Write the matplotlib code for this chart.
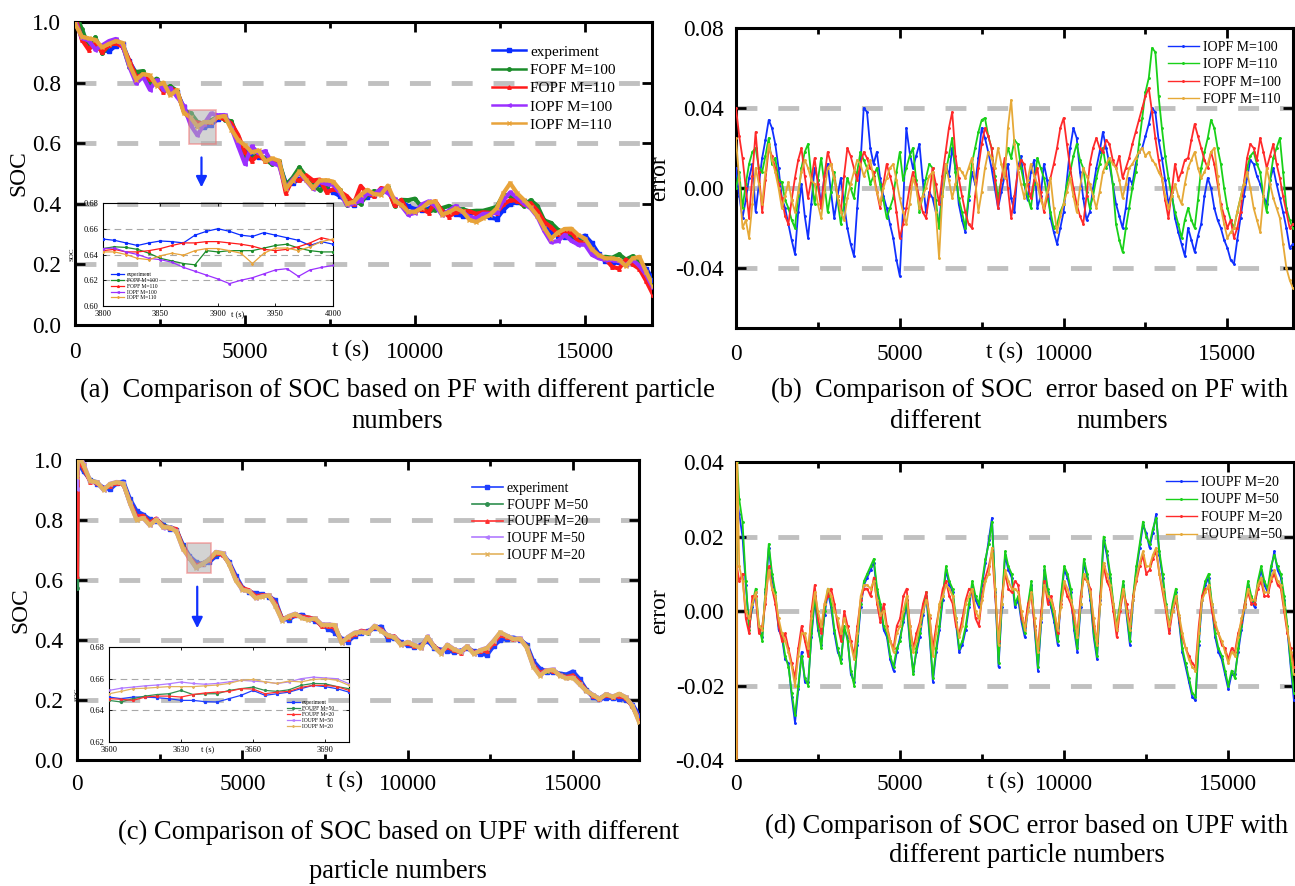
"""SOC and SOC error of PF / UPF filters with different particle numbers."""

import numpy as np
import matplotlib.pyplot as plt
from matplotlib.patches import Rectangle
from matplotlib.ticker import MultipleLocator, FormatStrFormatter

plt.rcParams["font.family"] = ["Liberation Serif", "DejaVu Serif"]
plt.rcParams["axes.unicode_minus"] = False


# ---------------------------------------------------------------------------
# data
# ---------------------------------------------------------------------------
T_SOC = np.arange(0, 17001, 200)       # SOC curves, s
T_ERR = np.arange(0, 17001, 100)       # PF error curves, s
T_UPF = np.insert(T_ERR, 1, 30)        # UPF error curves: extra sample at 30 s
T_SOC_UPF = np.insert(T_SOC, 1, 30)

SOC_EXP = [
    0.995, 0.962, 0.934, 0.921, 0.908, 0.903, 0.922, 0.928, 0.870, 0.830,
    0.818, 0.802, 0.798, 0.785, 0.770, 0.768, 0.718, 0.680, 0.660, 0.652,
    0.660, 0.680, 0.688, 0.660, 0.615, 0.575, 0.560, 0.556, 0.552, 0.545,
    0.532, 0.470, 0.468, 0.482, 0.484, 0.472, 0.465, 0.450, 0.438, 0.425,
    0.405, 0.395, 0.415, 0.424, 0.430, 0.440, 0.445, 0.405, 0.408, 0.392,
    0.382, 0.378, 0.383, 0.398, 0.374, 0.368, 0.365, 0.360, 0.365, 0.372,
    0.362, 0.355, 0.350, 0.380, 0.400, 0.405, 0.408, 0.400, 0.385, 0.330,
    0.305, 0.295, 0.292, 0.288, 0.285, 0.295, 0.270, 0.235, 0.210, 0.202,
    0.208, 0.206, 0.205, 0.200, 0.185, 0.150,
]
SOC_EXP_30S = 0.990

# PF errors (panel b), one row per 1000 s
ERR_IOPF_100 = [
    0.010, -0.004, -0.015, -0.006, 0.005, 0.012, -0.012, 0.002, 0.015, 0.024,
    0.034, 0.030, 0.022, 0.010, -0.005, -0.010, -0.018, -0.026, -0.033, -0.012,
    0.002, -0.014, -0.025, -0.008, 0.010, 0.004, -0.008, 0.006, 0.012, -0.002,
    -0.015, -0.004, 0.005, -0.008, -0.020, -0.028, -0.034, -0.010, 0.012, 0.040,
    0.038, 0.020, 0.012, 0.018, 0.005, -0.004, -0.010, -0.018, -0.025, -0.036,
    -0.044, -0.010, 0.030, 0.018, 0.010, 0.016, 0.022, 0.004, -0.012, -0.002,
    -0.005, -0.012, -0.018, 0.000, 0.012, 0.006, 0.020, 0.010, -0.008, -0.016,
    -0.022, -0.006, 0.008, 0.002, 0.015, 0.030, 0.025, 0.018, 0.010, 0.000,
    -0.010, -0.002, 0.006, 0.012, -0.005, -0.012, 0.010, 0.016, 0.002, -0.006,
    0.008, 0.014, -0.010, -0.004, 0.012, 0.004, -0.015, -0.022, -0.028, -0.020,
    -0.012, 0.004, 0.020, 0.030, 0.025, 0.008, -0.005, -0.016, -0.012, 0.000,
    0.010, 0.018, 0.028, 0.020, 0.012, 0.002, -0.008, -0.014, -0.020, -0.010,
    0.005, 0.002, 0.012, 0.018, 0.020, 0.026, 0.032, 0.040, 0.038, 0.024,
    0.015, 0.004, -0.008, -0.002, -0.015, -0.022, -0.028, -0.034, -0.020, -0.026,
    -0.032, -0.024, -0.018, -0.004, 0.005, 0.000, -0.010, -0.016, -0.020, -0.026,
    -0.030, -0.036, -0.038, -0.026, -0.015, -0.004, 0.005, 0.014, 0.012, 0.006,
    0.002, -0.004, -0.008, 0.004, 0.010, 0.002, -0.005, -0.012, -0.020, -0.030,
    -0.028,
]
ERR_IOPF_110 = [
    0.000, 0.008, -0.010, 0.002, 0.012, 0.018, 0.020, 0.010, 0.008, 0.016,
    0.025, 0.012, 0.015, 0.004, 0.003, -0.006, -0.010, -0.016, -0.020, -0.004,
    0.010, 0.018, 0.022, 0.006, -0.008, 0.004, 0.015, 0.002, -0.012, -0.002,
    0.008, -0.006, -0.018, -0.008, 0.005, 0.000, -0.005, 0.008, 0.018, 0.014,
    0.010, 0.002, 0.006, 0.010, 0.002, -0.006, -0.015, -0.010, -0.005, 0.008,
    0.018, 0.004, 0.010, 0.016, 0.020, 0.004, -0.012, -0.004, 0.005, 0.012,
    0.010, -0.006, -0.020, -0.004, 0.008, 0.016, 0.025, 0.008, -0.005, -0.012,
    -0.020, -0.004, 0.012, 0.020, 0.028, 0.034, 0.035, 0.026, 0.020, 0.006,
    -0.005, 0.004, 0.012, 0.020, 0.015, 0.024, 0.022, 0.010, 0.002, -0.004,
    -0.010, 0.002, 0.015, 0.010, 0.005, -0.004, -0.012, -0.020, -0.018, -0.012,
    -0.008, 0.002, 0.008, 0.016, 0.022, 0.014, 0.010, -0.002, -0.010, -0.004,
    0.005, 0.012, 0.020, 0.010, 0.015, 0.002, -0.018, -0.026, -0.032, -0.020,
    -0.010, 0.000, 0.008, 0.022, 0.035, 0.048, 0.055, 0.070, 0.068, 0.046,
    0.030, 0.016, 0.005, -0.004, -0.012, -0.018, -0.025, -0.016, -0.010, -0.016,
    -0.020, -0.006, 0.010, 0.018, 0.025, 0.034, 0.030, 0.020, 0.012, 0.000,
    -0.010, -0.016, -0.020, -0.012, -0.005, 0.002, 0.010, 0.016, 0.018, 0.012,
    0.008, -0.004, -0.012, 0.004, 0.015, 0.020, 0.025, 0.008, -0.010, -0.016,
    -0.020,
]
ERR_FOPF_100 = [
    0.040, 0.026, 0.015, 0.000, -0.015, 0.006, 0.028, 0.008, -0.012, 0.004,
    0.020, 0.016, 0.010, 0.002, -0.005, -0.014, -0.018, -0.006, 0.005, 0.014,
    0.020, 0.006, -0.005, 0.004, 0.015, 0.002, -0.010, 0.006, 0.018, 0.012,
    0.005, -0.004, -0.012, 0.006, 0.020, 0.016, 0.010, 0.004, 0.012, 0.018,
    0.015, 0.010, 0.008, -0.002, -0.010, 0.002, 0.012, 0.006, 0.000, -0.012,
    -0.025, -0.018, -0.010, 0.000, 0.008, 0.002, -0.005, -0.012, -0.015, -0.004,
    0.010, 0.002, -0.008, 0.006, 0.018, 0.030, 0.038, 0.016, 0.005, -0.004,
    -0.012, -0.018, -0.020, -0.004, 0.010, 0.022, 0.030, 0.026, 0.020, 0.004,
    -0.010, 0.004, 0.015, 0.000, -0.015, -0.004, 0.008, 0.014, 0.012, 0.002,
    -0.005, 0.004, 0.010, -0.002, -0.012, -0.004, 0.005, 0.012, 0.020, 0.030,
    0.035, 0.022, 0.010, 0.000, -0.008, -0.014, -0.018, -0.004, 0.012, 0.020,
    0.025, 0.020, 0.018, 0.024, 0.022, 0.014, 0.010, 0.016, 0.005, 0.010,
    0.015, 0.022, 0.028, 0.034, 0.040, 0.046, 0.050, 0.038, 0.025, 0.014,
    0.005, -0.006, -0.015, -0.002, 0.012, 0.004, 0.008, 0.014, 0.015, 0.024,
    0.032, 0.026, 0.020, 0.014, 0.010, 0.018, 0.012, 0.002, -0.008, -0.014,
    -0.020, -0.016, -0.025, -0.020, -0.012, 0.002, 0.015, 0.022, 0.020, 0.014,
    0.025, 0.018, 0.010, 0.016, 0.022, 0.012, 0.005, -0.004, -0.012, -0.020,
    -0.018,
]
ERR_FOPF_110 = [
    0.025, 0.004, -0.020, -0.016, -0.025, -0.008, 0.010, 0.002, -0.008, 0.008,
    0.022, 0.014, 0.008, 0.000, -0.010, -0.004, 0.003, -0.006, -0.012, -0.002,
    0.008, 0.014, 0.010, 0.004, 0.002, -0.008, -0.015, -0.002, 0.010, 0.012,
    0.005, -0.004, -0.012, -0.016, -0.005, 0.002, 0.008, 0.014, 0.012, 0.006,
    0.010, 0.014, 0.005, -0.002, -0.008, 0.000, 0.005, 0.010, 0.012, 0.004,
    -0.005, -0.012, -0.018, -0.008, 0.005, 0.000, -0.010, -0.004, 0.000, 0.006,
    0.008, -0.012, -0.035, -0.004, 0.012, 0.004, -0.005, 0.002, 0.010, 0.008,
    0.005, 0.010, 0.015, 0.004, -0.012, -0.002, 0.010, 0.018, 0.015, 0.010,
    0.020, 0.012, 0.005, 0.030, 0.044, 0.022, 0.010, 0.002, -0.005, 0.004,
    0.012, 0.006, 0.002, -0.006, -0.010, -0.002, 0.005, -0.010, -0.022, -0.014,
    -0.008, -0.002, 0.005, -0.004, -0.012, 0.000, 0.010, 0.006, 0.002, -0.004,
    -0.010, -0.002, 0.008, 0.012, 0.015, 0.012, 0.010, 0.004, -0.005, 0.002,
    0.010, 0.012, 0.015, 0.018, 0.020, 0.016, 0.018, 0.014, 0.012, 0.008,
    0.005, -0.004, -0.010, -0.004, 0.002, -0.004, -0.008, 0.002, 0.010, 0.014,
    0.018, 0.010, 0.005, 0.008, 0.012, 0.018, 0.020, 0.006, -0.010, -0.018,
    -0.025, -0.022, -0.020, -0.012, -0.005, 0.002, 0.008, 0.000, -0.010, -0.016,
    -0.022, -0.004, 0.010, 0.002, -0.005, -0.010, -0.015, -0.028, -0.040, -0.046,
    -0.050,
]

# UPF errors (panel d): samples at 0 s, 30 s, then every 100 s
ERR_IOUPF_20 = [
    -0.050, 0.030, 0.026, 0.020, 0.007, -0.004, 0.001, 0.005, -0.005, -0.007, 0.005,
    0.017, 0.009, 0.004, -0.005, -0.007, -0.013, -0.014, -0.023, -0.030, -0.021,
    -0.011, -0.019, -0.019, -0.007, 0.003, -0.005, -0.009, -0.001, 0.005, 0.001,
    -0.006, -0.011, -0.013, -0.005, -0.007, -0.017, -0.019, -0.009, 0.001, 0.007,
    0.009, 0.011, 0.013, 0.005, 0.001, -0.005, -0.007, -0.013, -0.016, -0.011,
    -0.007, -0.003, 0.002, -0.009, -0.016, -0.011, -0.007, -0.001, 0.004, -0.007,
    -0.019, -0.011, -0.005, 0.003, 0.011, 0.007, 0.005, -0.003, -0.011, -0.009,
    -0.005, 0.001, 0.007, 0.003, 0.001, 0.007, 0.013, 0.019, 0.025, 0.005,
    -0.015, 0.001, 0.015, 0.011, 0.009, 0.001, 0.003, -0.003, -0.007, 0.001,
    0.007, -0.005, -0.016, -0.003, 0.011, 0.005, 0.001, -0.003, -0.009, 0.003,
    0.011, 0.009, 0.005, -0.005, -0.011, 0.001, 0.013, 0.009, 0.003, -0.007,
    -0.013, 0.003, 0.019, 0.015, 0.009, 0.001, -0.005, 0.001, 0.007, -0.001,
    -0.009, 0.003, 0.011, 0.017, 0.023, 0.021, 0.017, 0.021, 0.026, 0.015,
    0.009, 0.001, -0.005, 0.001, 0.005, -0.003, -0.011, -0.015, -0.019, -0.023,
    -0.024, -0.009, 0.003, 0.007, 0.009, 0.001, -0.007, -0.011, -0.013, -0.017,
    -0.021, -0.017, -0.017, -0.011, -0.005, 0.001, 0.007, 0.003, 0.001, 0.007,
    0.011, 0.007, 0.005, 0.011, 0.016, 0.011, 0.009, 0.003, -0.005, -0.015,
    -0.024,
]
ERR_IOUPF_50 = [
    -0.090, 0.040, 0.030, 0.024, 0.008, -0.005, 0.002, 0.006, -0.004, -0.008, 0.006,
    0.018, 0.010, 0.005, -0.004, -0.006, -0.012, -0.015, -0.022, -0.028, -0.020,
    -0.012, -0.018, -0.020, -0.006, 0.004, -0.004, -0.010, 0.000, 0.006, 0.002,
    -0.005, -0.010, -0.014, -0.004, -0.008, -0.016, -0.020, -0.008, 0.002, 0.008,
    0.010, 0.012, 0.014, 0.006, 0.002, -0.004, -0.006, -0.012, -0.015, -0.010,
    -0.008, -0.002, 0.003, -0.008, -0.017, -0.010, -0.006, 0.000, 0.005, -0.006,
    -0.018, -0.010, -0.004, 0.004, 0.012, 0.008, 0.006, -0.002, -0.010, -0.008,
    -0.004, 0.002, 0.008, 0.004, 0.002, 0.008, 0.014, 0.018, 0.024, 0.006,
    -0.014, 0.002, 0.016, 0.012, 0.010, 0.002, 0.004, -0.002, -0.006, 0.002,
    0.008, -0.004, -0.015, -0.002, 0.012, 0.006, 0.002, -0.002, -0.008, 0.004,
    0.012, 0.010, 0.006, -0.004, -0.010, 0.002, 0.014, 0.010, 0.004, -0.006,
    -0.012, 0.004, 0.020, 0.016, 0.010, 0.002, -0.004, 0.002, 0.008, 0.000,
    -0.008, 0.004, 0.012, 0.018, 0.024, 0.020, 0.018, 0.022, 0.025, 0.016,
    0.010, 0.002, -0.004, 0.002, 0.006, -0.002, -0.010, -0.014, -0.018, -0.022,
    -0.023, -0.008, 0.004, 0.008, 0.010, 0.002, -0.006, -0.010, -0.012, -0.016,
    -0.020, -0.016, -0.018, -0.010, -0.004, 0.002, 0.008, 0.004, 0.002, 0.008,
    0.012, 0.008, 0.006, 0.012, 0.015, 0.012, 0.010, 0.004, -0.004, -0.014,
    -0.022,
]
ERR_FOUPF_20 = [
    -0.380, 0.012, 0.008, 0.010, -0.002, -0.006, 0.004, 0.004, -0.006, -0.004, 0.002,
    0.012, 0.006, 0.002, -0.004, -0.008, -0.006, -0.010, -0.014, -0.018, -0.010,
    -0.004, -0.008, -0.012, 0.000, 0.007, -0.002, -0.006, 0.002, 0.004, 0.006,
    0.002, -0.004, -0.008, 0.000, -0.004, -0.008, -0.012, -0.004, 0.003, 0.006,
    0.006, 0.004, 0.009, 0.002, -0.003, 0.002, -0.004, -0.008, -0.010, -0.004,
    -0.002, 0.004, 0.006, -0.004, -0.010, -0.006, -0.003, 0.002, 0.005, -0.002,
    -0.010, -0.004, 0.001, 0.006, 0.008, 0.004, 0.002, -0.004, -0.006, -0.002,
    0.003, 0.006, 0.005, -0.002, -0.004, 0.004, 0.009, 0.012, 0.016, 0.004,
    -0.008, 0.004, 0.010, 0.006, 0.005, 0.008, 0.007, -0.002, -0.004, 0.002,
    0.004, -0.004, -0.010, 0.000, 0.008, 0.002, 0.004, 0.000, -0.006, 0.002,
    0.007, 0.004, 0.002, -0.002, -0.006, 0.004, 0.009, 0.008, 0.006, -0.004,
    -0.008, 0.004, 0.012, 0.008, 0.006, 0.000, -0.007, 0.000, 0.005, 0.002,
    -0.004, 0.004, 0.008, 0.012, 0.015, 0.010, 0.011, 0.014, 0.016, 0.010,
    0.005, 0.000, -0.006, 0.000, 0.003, -0.002, -0.007, -0.010, -0.012, -0.014,
    -0.015, -0.004, 0.004, 0.006, 0.006, 0.000, -0.004, -0.006, -0.009, -0.010,
    -0.013, -0.010, -0.011, -0.006, -0.003, 0.002, 0.005, 0.002, 0.002, 0.006,
    0.008, 0.004, 0.004, 0.008, 0.010, 0.007, 0.006, 0.000, -0.006, -0.010,
    -0.015,
]
ERR_FOUPF_50 = [
    -0.420, 0.045, 0.012, 0.008, 0.000, -0.002, 0.002, 0.005, -0.004, -0.005, 0.004,
    0.011, 0.006, 0.004, -0.002, -0.006, -0.008, -0.011, -0.015, -0.020, -0.012,
    -0.006, -0.006, -0.010, -0.002, 0.005, 0.000, -0.004, 0.002, 0.006, 0.004,
    0.000, -0.002, -0.006, -0.002, -0.005, -0.009, -0.013, -0.006, 0.004, 0.007,
    0.007, 0.006, 0.008, 0.003, -0.001, 0.000, -0.005, -0.008, -0.011, -0.006,
    -0.004, 0.000, 0.004, -0.004, -0.011, -0.008, -0.004, 0.000, 0.003, -0.001,
    -0.012, -0.006, 0.002, 0.004, 0.007, 0.006, 0.004, -0.002, -0.007, -0.004,
    0.002, 0.004, 0.006, 0.000, -0.002, 0.003, 0.008, 0.010, 0.017, 0.006,
    -0.009, 0.002, 0.011, 0.008, 0.006, 0.006, 0.005, 0.000, -0.005, 0.000,
    0.005, -0.002, -0.011, -0.002, 0.007, 0.004, 0.003, 0.000, -0.005, 0.001,
    0.008, 0.006, 0.003, 0.000, -0.007, 0.002, 0.010, 0.008, 0.005, -0.002,
    -0.009, 0.002, 0.013, 0.010, 0.007, 0.002, -0.005, 0.001, 0.006, 0.000,
    -0.005, 0.003, 0.009, 0.013, 0.016, 0.012, 0.012, 0.015, 0.017, 0.010,
    0.006, 0.001, -0.004, 0.000, 0.004, -0.001, -0.006, -0.010, -0.013, -0.015,
    -0.016, -0.006, 0.003, 0.005, 0.007, 0.002, -0.003, -0.006, -0.008, -0.011,
    -0.014, -0.011, -0.012, -0.007, -0.002, 0.001, 0.006, 0.003, 0.003, 0.007,
    0.009, 0.005, 0.005, 0.009, 0.011, 0.008, 0.007, 0.001, -0.005, -0.011,
    -0.017,
]

# zoomed window of panel a (3800-4000 s)
T_ZOOM_A = np.arange(3800, 4001, 10)
ZOOM_A_EXP = [0.652, 0.651, 0.649, 0.647, 0.649, 0.6505, 0.650, 0.649, 0.655, 0.658,
              0.660, 0.658, 0.655, 0.654, 0.657, 0.655, 0.653, 0.651, 0.647, 0.650, 0.648]
ZOOM_A_FOPF_100 = [0.6446, 0.646, 0.6455, 0.644, 0.641, 0.637, 0.635, 0.633, 0.632, 0.643,
                   0.642, 0.643, 0.643, 0.643, 0.645, 0.647, 0.648, 0.645, 0.643, 0.642, 0.642]
ZOOM_A_FOPF_110 = [0.643, 0.644, 0.642, 0.642, 0.643, 0.6446, 0.647, 0.649, 0.649, 0.650,
                   0.650, 0.649, 0.648, 0.6465, 0.644, 0.643, 0.644, 0.646, 0.649, 0.653, 0.651]
ZOOM_A_IOPF_100 = [0.6446, 0.645, 0.642, 0.640, 0.637, 0.636, 0.634, 0.630, 0.627, 0.624,
                   0.621, 0.6174, 0.620, 0.622, 0.625, 0.628, 0.629, 0.623, 0.628, 0.630, 0.6315]
ZOOM_A_IOPF_110 = [0.642, 0.642, 0.640, 0.637, 0.636, 0.639, 0.641, 0.6395, 0.643, 0.6446,
                   0.6446, 0.643, 0.641, 0.633, 0.641, 0.645, 0.645, 0.643, 0.646, 0.650, 0.652]

# zoomed window of panel c (3600-3700 s)
T_ZOOM_C = np.arange(3600, 3701, 5)
ZOOM_C_EXP = [0.6484, 0.6474, 0.6484, 0.6484, 0.648, 0.6474, 0.6463, 0.6463, 0.6455, 0.6453,
              0.6474, 0.6495, 0.6526, 0.6495, 0.6505, 0.6515, 0.6537, 0.6558, 0.655, 0.6537, 0.6515]
ZOOM_C_FOUPF_50 = [0.6463, 0.6453, 0.6474, 0.649, 0.650, 0.6505, 0.6526, 0.650, 0.6505, 0.6505,
                   0.6526, 0.6537, 0.6547, 0.6526, 0.652, 0.653, 0.6558, 0.657, 0.6568, 0.655, 0.6537]
ZOOM_C_FOUPF_20 = [0.6474, 0.647, 0.6463, 0.6484, 0.649, 0.649, 0.6484, 0.650, 0.651, 0.6515,
                   0.652, 0.6537, 0.6535, 0.6505, 0.6515, 0.652, 0.6545, 0.6558, 0.6558, 0.655, 0.6526]
ZOOM_C_IOUPF_50 = [0.6526, 0.654, 0.6547, 0.6555, 0.656, 0.6568, 0.6579, 0.657, 0.6565, 0.657,
                   0.658, 0.659, 0.6585, 0.658, 0.657, 0.658, 0.660, 0.661, 0.6605, 0.660, 0.6568]
ZOOM_C_IOUPF_20 = [0.6505, 0.652, 0.6537, 0.654, 0.6545, 0.655, 0.655, 0.655, 0.6555, 0.656,
                   0.657, 0.659, 0.6595, 0.658, 0.657, 0.6585, 0.658, 0.6595, 0.660, 0.659, 0.6558]

LABELS_A = ["experiment", "FOPF M=100", "FOPF M=110", "IOPF M=100", "IOPF M=110"]
LABELS_B = ["IOPF M=100", "IOPF M=110", "FOPF M=100", "FOPF M=110"]
LABELS_C = ["experiment", "FOUPF M=50", "FOUPF M=20", "IOUPF M=50", "IOUPF M=20"]
LABELS_D = ["IOUPF M=20", "IOUPF M=50", "FOUPF M=20", "FOUPF M=50"]

CAPTIONS = {
    "a": ["(a)  Comparison of SOC based on PF with different particle", "numbers"],
    "b": ["(b)  Comparison of SOC  error based on PF with", "different", "numbers"],
    "c": ["(c) Comparison of SOC based on UPF with different", "particle numbers"],
    "d": ["(d) Comparison of SOC error based on UPF with", "different particle numbers"],
}

assert len(SOC_EXP) == len(T_SOC)
for _arr in (ERR_IOPF_100, ERR_IOPF_110, ERR_FOPF_100, ERR_FOPF_110):
    assert len(_arr) == len(T_ERR)
for _arr in (ERR_IOUPF_20, ERR_IOUPF_50, ERR_FOUPF_20, ERR_FOUPF_50):
    assert len(_arr) == len(T_UPF)


# ---------------------------------------------------------------------------
# colours / styles
# ---------------------------------------------------------------------------
COLORS_A = ["#0a2cff", "#1b8c2a", "#ff1a1a", "#9b30ff", "#e8a33a"]
MARKERS_A = ["s", "o", "^", "<", "x"]
COLORS_B = ["#1030ff", "#19d119", "#ff2a2a", "#e6a937"]
COLORS_C = ["#1f3fff", "#2f8f4f", "#ff3030", "#b27bff", "#e3b35e"]
MARKERS_C = ["s", "o", "^", "<", "x"]
COLORS_D = ["#1030ff", "#19d119", "#ff2a2a", "#e6a937"]
GRID_COLOR = "#c0c0c0"
TICK_SIZE = 16.8
CAPTION_SIZE = 19.2


# ---------------------------------------------------------------------------
# helpers
# ---------------------------------------------------------------------------

def style_main(ax, xlim, ylim, yticks, yfmt, grid_ys, xpad, ypad):
    """Frame, ticks and dashed guide lines shared by the four panels."""
    ax.set_xlim(*xlim)
    ax.set_ylim(*ylim)
    ax.xaxis.set_major_locator(MultipleLocator(5000))
    ax.xaxis.set_minor_locator(MultipleLocator(2500))
    ax.set_yticks(yticks)
    ax.yaxis.set_major_formatter(FormatStrFormatter(yfmt))
    ax.tick_params(which="both", direction="in", top=True, right=True,
                   width=2, color="black")
    ax.tick_params(which="major", length=7, labelsize=TICK_SIZE)
    ax.tick_params(which="minor", length=4)
    ax.tick_params(axis="x", pad=xpad)
    ax.tick_params(axis="y", pad=ypad)
    for sp in ax.spines.values():
        sp.set_linewidth(2.2)
    for y in grid_ys:
        ax.axhline(y, color=GRID_COLOR, lw=3.5, ls=(0, (4.3, 4.3)), zorder=1)


def time_label(ax, t, y, size=TICK_SIZE):
    """'t (s)' placed on the tick-label row, as in the original."""
    ax.text(t, y, "t (s)", transform=ax.get_xaxis_transform(),
            ha="center", va="center", fontsize=size)


def main_legend(ax, anchor, size, spacing, handle_lw):
    leg = ax.legend(loc="upper left", bbox_to_anchor=anchor, frameon=False,
                    fontsize=size, handlelength=2.2, handletextpad=0.3,
                    labelspacing=spacing, borderpad=0, borderaxespad=0)
    for line in leg.get_lines():
        line.set_linewidth(handle_lw)
    return leg


def add_inset(fig, rect, t, curves, labels, colors, markers, xlim, ylim,
              xticks, grid_ys, t_label, leg_anchor):
    """Small transparent zoom panel sitting inside a SOC panel."""
    ax = fig.add_axes(rect)
    ax.patch.set_alpha(0)
    for y, lab, c, m in zip(curves, labels, colors, markers):
        ax.plot(t, y, color=c, lw=0.9, marker=m, ms=1.3, label=lab, zorder=3)
    for y in grid_ys:
        ax.axhline(y, color="#a8a8a8", lw=0.8, ls=(0, (6, 4)), zorder=1)
    ax.set_xlim(*xlim)
    ax.set_ylim(*ylim)
    ax.set_xticks(xticks)
    ax.yaxis.set_major_locator(MultipleLocator(0.02))
    ax.yaxis.set_major_formatter(FormatStrFormatter("%.2f"))
    ax.tick_params(direction="in", length=2.5, width=0.6, labelsize=6, pad=3,
                   top=True, right=True)
    for sp in ax.spines.values():
        sp.set_linewidth(0.8)
    ax.set_ylabel("SOC", fontsize=5)
    ax.yaxis.set_label_coords(-0.125, 0.5)
    time_label(ax, t_label, -0.09, size=6)
    ax.legend(loc="upper left", bbox_to_anchor=leg_anchor, frameon=False,
              fontsize=4, handlelength=2.4, handletextpad=0.4,
              labelspacing=0.15, borderpad=0, borderaxespad=0)
    return ax


# ---------------------------------------------------------------------------
# figure
# ---------------------------------------------------------------------------
fig = plt.figure(figsize=(12.95, 8.86), dpi=100)

ax_a = fig.add_axes([0.0579, 0.6332, 0.4456, 0.3420])
ax_b = fig.add_axes([0.5683, 0.6298, 0.4301, 0.3386])
ax_c = fig.add_axes([0.0595, 0.1422, 0.4340, 0.3386])
ax_d = fig.add_axes([0.5683, 0.1422, 0.4309, 0.3363])

exp = np.asarray(SOC_EXP)
on_soc = np.isin(T_ERR, T_SOC)           # error samples that fall on the SOC grid
on_soc_upf = np.isin(T_UPF, T_SOC_UPF)

# ---- (a) SOC, PF ----
curves_a = [exp] + [exp + np.asarray(e)[on_soc] for e in
                    (ERR_FOPF_100, ERR_FOPF_110, ERR_IOPF_100, ERR_IOPF_110)]
for y, lab, c, m in zip(curves_a, LABELS_A, COLORS_A, MARKERS_A):
    ax_a.plot(T_SOC, y, color=c, lw=3.0, marker=m, ms=2.5, label=lab, zorder=3)
style_main(ax_a, (0, 16970), (0, 1.0), np.arange(0, 1.01, 0.2), "%.1f",
           [0.2, 0.4, 0.6, 0.8], xpad=12, ypad=10)
ax_a.set_ylabel("SOC", fontsize=TICK_SIZE, labelpad=2)
time_label(ax_a, 8100, -0.083)
main_legend(ax_a, (0.723, 0.924), 11, 0.3, 1.8)
ax_a.add_patch(Rectangle((3350, 0.596), 790, 0.114, facecolor="#b0b0b0",
                         alpha=0.55, edgecolor="#f07070", lw=1.2, zorder=4))
ax_a.annotate("", xy=(3720, 0.445), xytext=(3720, 0.562),
              arrowprops=dict(arrowstyle="-|>", color="#1030ff", lw=1.6,
                              mutation_scale=16))
add_inset(fig, [0.0795, 0.6546, 0.1776, 0.1163], T_ZOOM_A,
          [ZOOM_A_EXP, ZOOM_A_FOPF_100, ZOOM_A_FOPF_110, ZOOM_A_IOPF_100, ZOOM_A_IOPF_110],
          LABELS_A, COLORS_A, MARKERS_A, (3800, 4000), (0.60, 0.68),
          [3800, 3850, 3900, 3950, 4000], [0.62, 0.64, 0.66], 3917, (0.035, 0.33))

# ---- (b) SOC error, PF ----
errs_b = [ERR_IOPF_100, ERR_IOPF_110, ERR_FOPF_100, ERR_FOPF_110]
for y, lab, c in zip(errs_b, LABELS_B, COLORS_B):
    ax_b.plot(T_ERR, y, color=c, lw=1.3, marker=".", ms=2.2, label=lab, zorder=3)
style_main(ax_b, (0, 17000), (-0.07, 0.08), [-0.04, 0.0, 0.04, 0.08], "%.2f",
           [-0.04, 0.0, 0.04], xpad=11.5, ypad=8.5)
ax_b.set_ylabel("error", fontsize=TICK_SIZE, labelpad=4)
time_label(ax_b, 8200, -0.08)
main_legend(ax_b, (0.776, 0.957), 10, 0.32, 1.0)

# ---- (c) SOC, UPF ----
exp_upf = np.insert(exp, 1, SOC_EXP_30S)
curves_c = [exp_upf] + [exp_upf + np.asarray(e)[on_soc_upf] for e in
                        (ERR_FOUPF_50, ERR_FOUPF_20, ERR_IOUPF_50, ERR_IOUPF_20)]
for y, lab, c, m in zip(curves_c, LABELS_C, COLORS_C, MARKERS_C):
    ax_c.plot(T_SOC_UPF, y, color=c, lw=3.0, marker=m, ms=2.5, label=lab, zorder=3)
style_main(ax_c, (0, 17000), (0, 1.0), np.arange(0, 1.01, 0.2), "%.1f",
           [0.2, 0.4, 0.6, 0.8], xpad=10, ypad=10)
ax_c.set_ylabel("SOC", fontsize=TICK_SIZE, labelpad=2)
time_label(ax_c, 8100, -0.073)
main_legend(ax_c, (0.703, 0.927), 10, 0.27, 1.2)
ax_c.add_patch(Rectangle((3316, 0.622), 727, 0.100, facecolor="#b0b0b0",
                         alpha=0.55, edgecolor="#f07070", lw=1.2, zorder=4))
ax_c.annotate("", xy=(3635, 0.43), xytext=(3635, 0.587),
              arrowprops=dict(arrowstyle="-|>", color="#1030ff", lw=1.6,
                              mutation_scale=16))
add_inset(fig, [0.0842, 0.1625, 0.1853, 0.1072], T_ZOOM_C,
          [ZOOM_C_EXP, ZOOM_C_FOUPF_50, ZOOM_C_FOUPF_20, ZOOM_C_IOUPF_50, ZOOM_C_IOUPF_20],
          LABELS_C, COLORS_C, MARKERS_C, (3600, 3700), (0.62, 0.68),
          [3600, 3630, 3660, 3690], [0.64, 0.66], 3641, (0.74, 0.44))

# ---- (d) SOC error, UPF ----
errs_d = [ERR_IOUPF_20, ERR_IOUPF_50, ERR_FOUPF_20, ERR_FOUPF_50]
for y, lab, c in zip(errs_d, LABELS_D, COLORS_D):
    ax_d.plot(T_UPF, y, color=c, lw=1.3, marker=".", ms=2.2, label=lab, zorder=3)
style_main(ax_d, (0, 17000), (-0.04, 0.04), [-0.04, -0.02, 0.0, 0.02, 0.04], "%.2f",
           [-0.02, 0.0, 0.02], xpad=10, ypad=8.5)
ax_d.set_ylabel("error", fontsize=TICK_SIZE, labelpad=4)
time_label(ax_d, 8200, -0.074)
main_legend(ax_d, (0.771, 0.953), 10, 0.32, 1.0)

# ---- captions ----
CAPTION_POS = {
    "a": [(397, 390), (397, 422)],
    "b": [(1030, 390), (936, 422), (1122, 422)],
    "c": [(399, 832), (398, 872)],
    "d": [(1027, 826), (1027, 856)],
}
for key, lines in CAPTIONS.items():
    for text, (px, py) in zip(lines, CAPTION_POS[key]):
        fig.text(px / 1295, 1 - py / 886, text, ha="center", va="center",
                 fontsize=CAPTION_SIZE)

fig.savefig("out.png", dpi=100)
